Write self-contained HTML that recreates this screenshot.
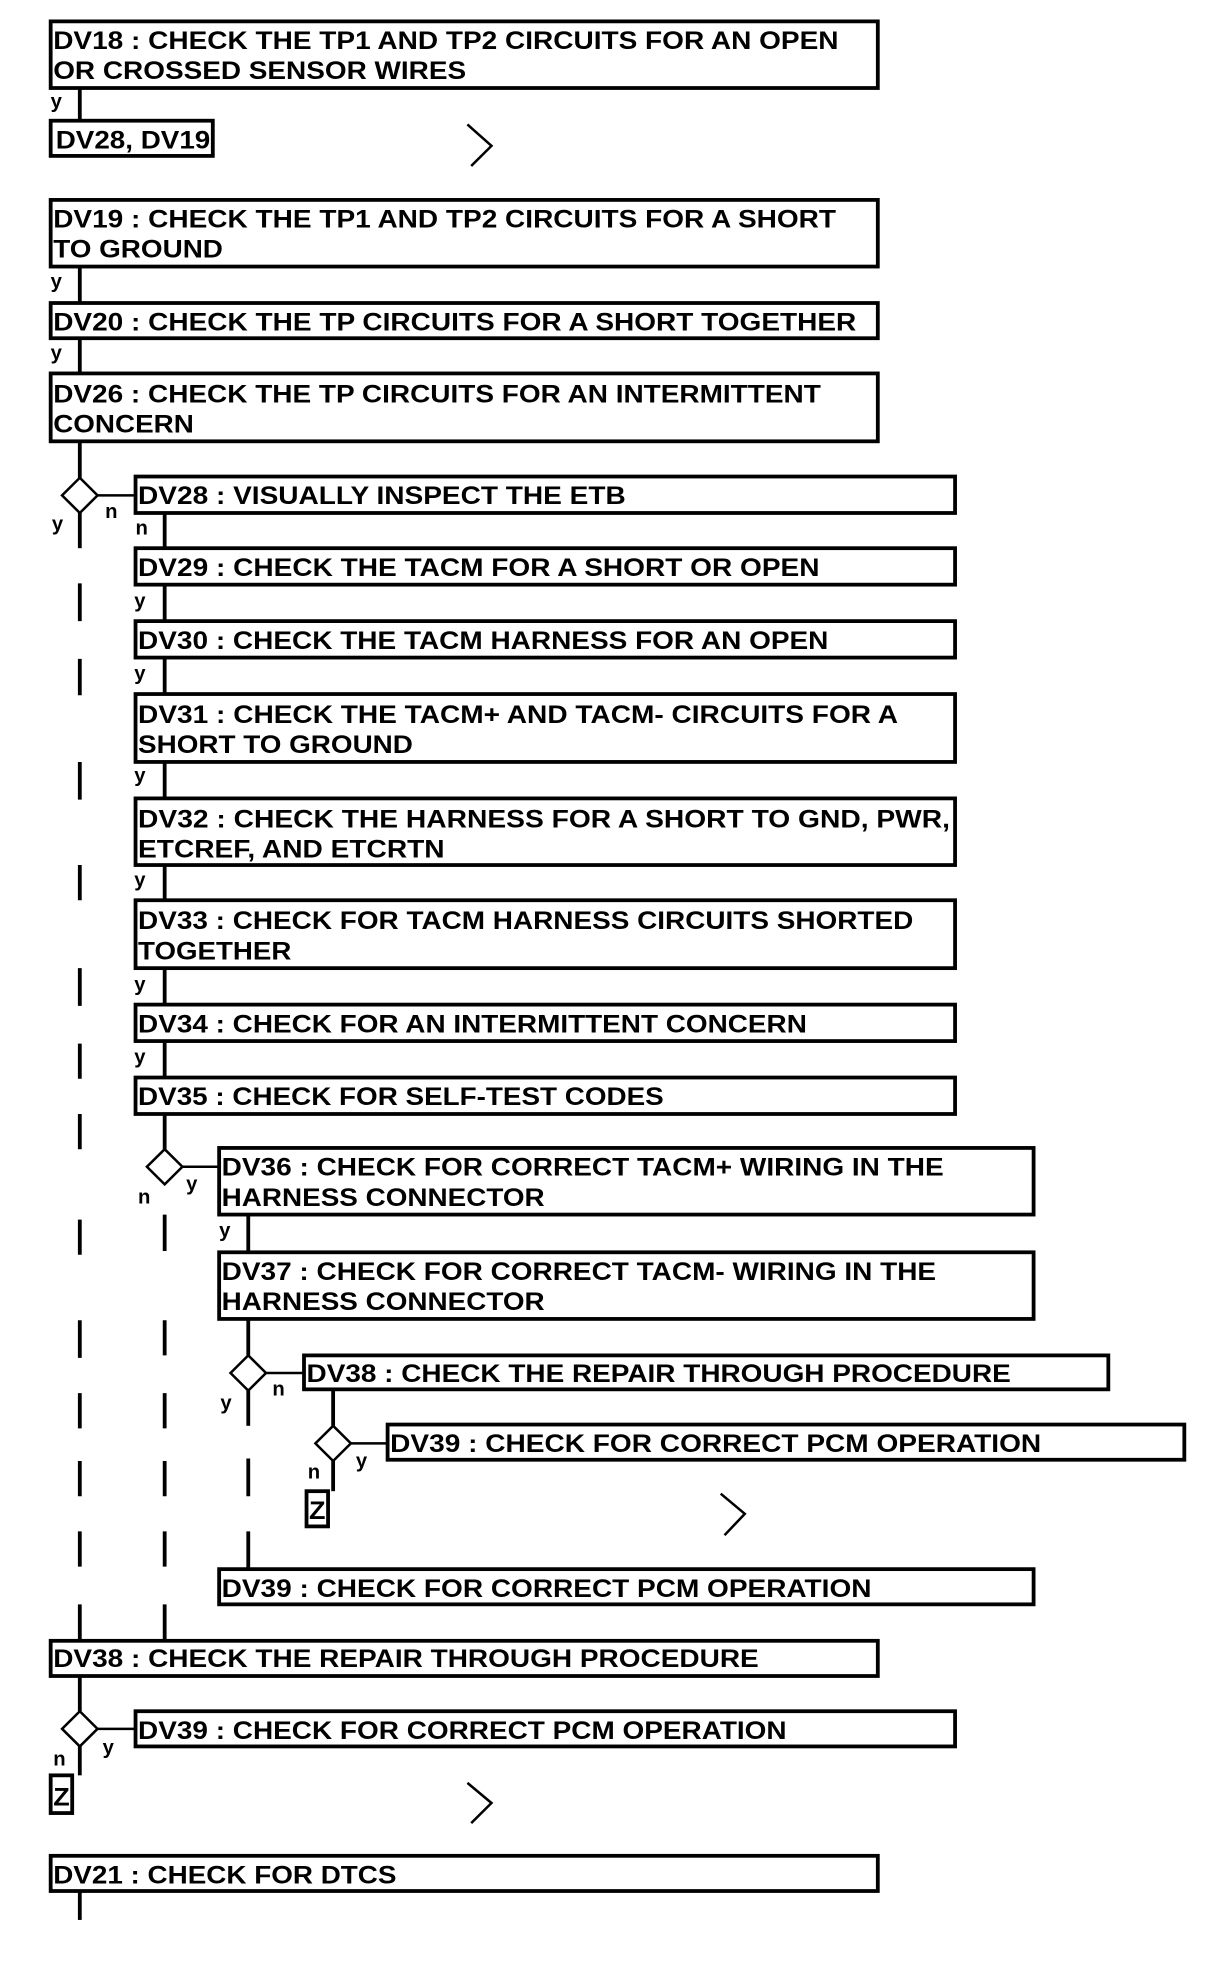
<!DOCTYPE html>
<html><head><meta charset="utf-8"><style>
html,body{margin:0;padding:0;background:#fff;}
svg{display:block;}
text{font-family:"Liberation Sans",Arial,sans-serif;font-weight:bold;font-size:20px;fill:#000;}
.s{font-size:16px;}
</style></head><body>
<svg width="1216" height="1974" viewBox="0 0 960 1570" preserveAspectRatio="none" xmlns="http://www.w3.org/2000/svg">
<g fill="#fff" stroke="#000" stroke-width="3">
<rect x="40" y="17" width="653" height="53"/>
<rect x="40" y="96" width="128" height="28"/>
<rect x="40" y="159" width="653" height="53"/>
<rect x="40" y="241" width="653" height="28"/>
<rect x="40" y="297" width="653" height="54"/>
<rect x="107" y="379" width="647" height="29"/>
<rect x="107" y="436" width="647" height="29"/>
<rect x="107" y="494" width="647" height="29"/>
<rect x="107" y="552" width="647" height="54"/>
<rect x="107" y="635" width="647" height="53"/>
<rect x="107" y="716" width="647" height="54"/>
<rect x="107" y="799" width="647" height="29"/>
<rect x="107" y="857" width="647" height="29"/>
<rect x="173" y="913" width="643" height="53"/>
<rect x="173" y="996" width="643" height="53"/>
<rect x="240" y="1078" width="635" height="27"/>
<rect x="306" y="1133" width="629" height="28"/>
<rect x="242" y="1186" width="17" height="28"/>
<rect x="173" y="1248" width="643" height="28"/>
<rect x="40" y="1305" width="653" height="28"/>
<rect x="107" y="1361" width="647" height="28"/>
<rect x="40" y="1412" width="17" height="30"/>
<rect x="40" y="1476" width="653" height="28"/>
</g>
<g stroke="#000" stroke-width="3" fill="none">
<line x1="63" y1="70" x2="63" y2="96"/>
<line x1="63" y1="212" x2="63" y2="241"/>
<line x1="63" y1="269" x2="63" y2="297"/>
<line x1="63" y1="351" x2="63" y2="380"/>
<line x1="63" y1="408" x2="63" y2="436"/>
<line x1="130" y1="408" x2="130" y2="436"/>
<line x1="130" y1="465" x2="130" y2="494"/>
<line x1="130" y1="523" x2="130" y2="552"/>
<line x1="130" y1="606" x2="130" y2="635"/>
<line x1="130" y1="688" x2="130" y2="716"/>
<line x1="130" y1="770" x2="130" y2="799"/>
<line x1="130" y1="828" x2="130" y2="857"/>
<line x1="130" y1="886" x2="130" y2="914"/>
<line x1="196" y1="966" x2="196" y2="996"/>
<line x1="196" y1="1049" x2="196" y2="1078"/>
<line x1="196" y1="1106" x2="196" y2="1134"/>
<line x1="263" y1="1105" x2="263" y2="1134"/>
<line x1="263" y1="1162" x2="263" y2="1186"/>
<line x1="63" y1="1333" x2="63" y2="1361"/>
<line x1="63" y1="1389" x2="63" y2="1412"/>
<line x1="63" y1="1504" x2="63" y2="1527"/>
<path d="M63 464V494M63 524V553M63 606V636M63 688V716M63 770V800M63 830V858M63 886V914M63 970V998M63 1050V1080M63 1108V1136M63 1162V1190M63 1218V1246M63 1276V1305"/>
<path d="M130 966V995M130 1050V1078M130 1108V1136M130 1162V1190M130 1218V1246M130 1276V1305"/>
<path d="M196 1160V1190M196 1218V1248"/>
</g>
<g stroke="#000" stroke-width="2" fill="#fff">
<polygon points="63,380 77,394 63,408 49,394"/><line x1="77" y1="394" x2="107" y2="394"/>
<polygon points="130,914 144,928 130,942 116,928"/><line x1="144" y1="928" x2="173" y2="928"/>
<polygon points="196,1078 210,1092 196,1106 182,1092"/><line x1="210" y1="1092" x2="240" y2="1092"/>
<polygon points="263,1134 277,1148 263,1162 249,1148"/><line x1="277" y1="1148" x2="306" y2="1148"/>
<polygon points="63,1361 77,1375 63,1389 49,1375"/><line x1="77" y1="1375" x2="107" y2="1375"/>
</g>
<g stroke="#000" stroke-width="2" fill="none">
<polyline points="369,99 388,116 372,132"/>
<polyline points="569,1188 588,1204 572,1221"/>
<polyline points="369,1418 388,1434 372,1450"/>
</g>
<g>
<text x="42" y="39" textLength="620" lengthAdjust="spacingAndGlyphs">DV18 : CHECK THE TP1 AND TP2 CIRCUITS FOR AN OPEN</text>
<text x="42" y="63" textLength="326" lengthAdjust="spacingAndGlyphs">OR CROSSED SENSOR WIRES</text>
<text x="44" y="118" textLength="122" lengthAdjust="spacingAndGlyphs">DV28, DV19</text>
<text x="42" y="181" textLength="618" lengthAdjust="spacingAndGlyphs">DV19 : CHECK THE TP1 AND TP2 CIRCUITS FOR A SHORT</text>
<text x="42" y="205" textLength="134" lengthAdjust="spacingAndGlyphs">TO GROUND</text>
<text x="42" y="263" textLength="634" lengthAdjust="spacingAndGlyphs">DV20 : CHECK THE TP CIRCUITS FOR A SHORT TOGETHER</text>
<text x="42" y="320" textLength="606" lengthAdjust="spacingAndGlyphs">DV26 : CHECK THE TP CIRCUITS FOR AN INTERMITTENT</text>
<text x="42" y="344" textLength="111" lengthAdjust="spacingAndGlyphs">CONCERN</text>
<text x="109" y="401" textLength="385" lengthAdjust="spacingAndGlyphs">DV28 : VISUALLY INSPECT THE ETB</text>
<text x="109" y="458" textLength="538" lengthAdjust="spacingAndGlyphs">DV29 : CHECK THE TACM FOR A SHORT OR OPEN</text>
<text x="109" y="516" textLength="545" lengthAdjust="spacingAndGlyphs">DV30 : CHECK THE TACM HARNESS FOR AN OPEN</text>
<text x="109" y="575" textLength="600" lengthAdjust="spacingAndGlyphs">DV31 : CHECK THE TACM+ AND TACM- CIRCUITS FOR A</text>
<text x="109" y="599" textLength="217" lengthAdjust="spacingAndGlyphs">SHORT TO GROUND</text>
<text x="109" y="658" textLength="641" lengthAdjust="spacingAndGlyphs">DV32 : CHECK THE  HARNESS FOR A SHORT TO GND, PWR,</text>
<text x="109" y="682" textLength="242" lengthAdjust="spacingAndGlyphs">ETCREF, AND ETCRTN</text>
<text x="109" y="739" textLength="612" lengthAdjust="spacingAndGlyphs">DV33 : CHECK FOR TACM HARNESS CIRCUITS SHORTED</text>
<text x="109" y="763" textLength="121" lengthAdjust="spacingAndGlyphs">TOGETHER</text>
<text x="109" y="821" textLength="528" lengthAdjust="spacingAndGlyphs">DV34 : CHECK FOR AN INTERMITTENT CONCERN</text>
<text x="109" y="879" textLength="415" lengthAdjust="spacingAndGlyphs">DV35 : CHECK FOR SELF-TEST CODES</text>
<text x="175" y="935" textLength="570" lengthAdjust="spacingAndGlyphs">DV36 : CHECK FOR CORRECT TACM+ WIRING IN THE</text>
<text x="175" y="959" textLength="255" lengthAdjust="spacingAndGlyphs">HARNESS CONNECTOR</text>
<text x="175" y="1018" textLength="564" lengthAdjust="spacingAndGlyphs">DV37 : CHECK FOR CORRECT TACM- WIRING IN THE</text>
<text x="175" y="1042" textLength="255" lengthAdjust="spacingAndGlyphs">HARNESS CONNECTOR</text>
<text x="242" y="1099" textLength="556" lengthAdjust="spacingAndGlyphs">DV38 : CHECK THE REPAIR THROUGH PROCEDURE</text>
<text x="308" y="1155" textLength="514" lengthAdjust="spacingAndGlyphs">DV39 : CHECK FOR CORRECT PCM OPERATION</text>
<text x="244" y="1208" textLength="13" lengthAdjust="spacingAndGlyphs">Z</text>
<text x="175" y="1270" textLength="513" lengthAdjust="spacingAndGlyphs">DV39 : CHECK FOR CORRECT PCM OPERATION</text>
<text x="42" y="1326" textLength="557" lengthAdjust="spacingAndGlyphs">DV38 : CHECK THE REPAIR THROUGH PROCEDURE</text>
<text x="109" y="1383" textLength="512" lengthAdjust="spacingAndGlyphs">DV39 : CHECK FOR CORRECT PCM OPERATION</text>
<text x="42" y="1436" textLength="13" lengthAdjust="spacingAndGlyphs">Z</text>
<text x="42" y="1498" textLength="271" lengthAdjust="spacingAndGlyphs">DV21 : CHECK FOR DTCS</text>
</g>
<g class="s">
<text class="s" x="40" y="86">y</text>
<text class="s" x="40" y="229">y</text>
<text class="s" x="40" y="286">y</text>
<text class="s" x="83" y="412">n</text>
<text class="s" x="41" y="422">y</text>
<text class="s" x="107" y="425">n</text>
<text class="s" x="106" y="483">y</text>
<text class="s" x="106" y="541">y</text>
<text class="s" x="106" y="622">y</text>
<text class="s" x="106" y="705">y</text>
<text class="s" x="106" y="788">y</text>
<text class="s" x="106" y="846">y</text>
<text class="s" x="109" y="957">n</text>
<text class="s" x="147" y="947">y</text>
<text class="s" x="173" y="984">y</text>
<text class="s" x="174" y="1121">y</text>
<text class="s" x="215" y="1110">n</text>
<text class="s" x="281" y="1167">y</text>
<text class="s" x="243" y="1176">n</text>
<text class="s" x="42" y="1404">n</text>
<text class="s" x="81" y="1395">y</text>
</g>
</svg>
</body></html>
